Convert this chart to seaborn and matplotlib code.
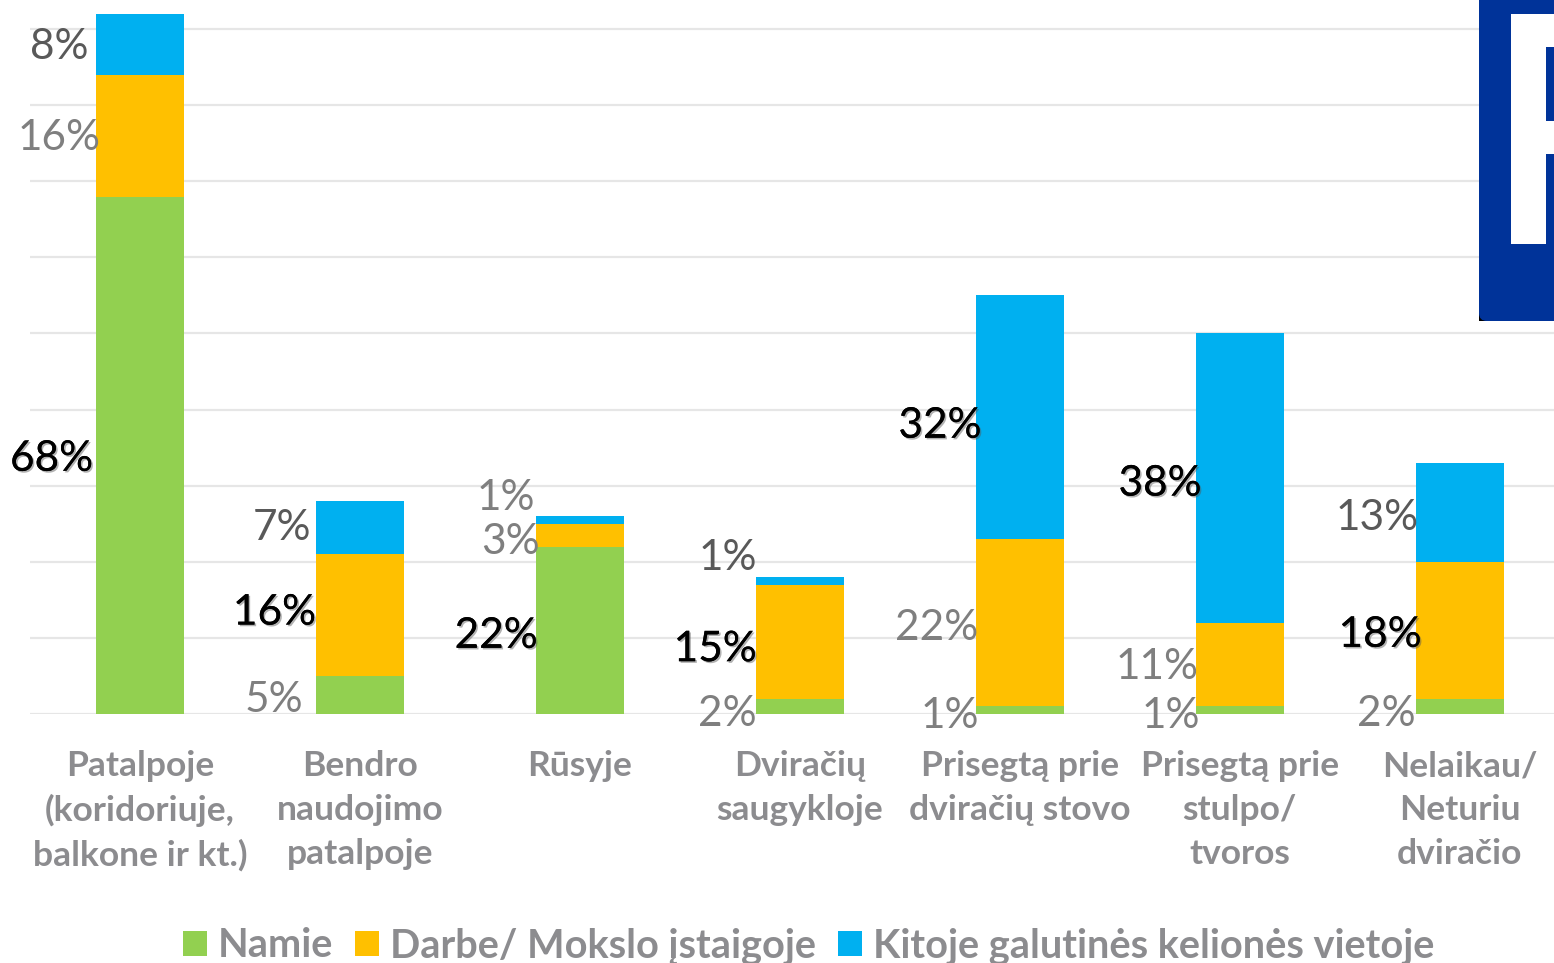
import matplotlib
matplotlib.use("Agg")
import matplotlib.pyplot as plt
import matplotlib.patheffects as pe
from matplotlib.patches import Rectangle, FancyBboxPatch
import numpy as np
import pandas as pd
import seaborn as sns

categories = ["Patalpoje\n(koridoriuje,\nbalkone ir kt.)", "Bendro\nnaudojimo\npatalpoje", "Rūsyje",
              "Dviračių\nsaugykloje", "Prisegtą prie\ndviračių stovo", "Prisegtą prie\nstulpo/\ntvoros",
              "Nelaikau/\nNeturiu\ndviračio"]
namie = [68, 5, 22, 2, 1, 1, 2]
darbe = [16, 16, 3, 15, 22, 11, 18]
kitoje = [8, 7, 1, 1, 32, 38, 13]
series_names = ["Namie", "Darbe/ Mokslo įstaigoje", "Kitoje galutinės kelionės vietoje"]
y_ticks = list(range(0, 100, 10))

colors = ["#92D050", "#FFC000", "#00B0F0"]
# label ink per series: "d" dark, "l" light, "k" black with shadow
ink = {"namie": ["k", "l", "k", "l", "l", "l", "l"],
       "darbe": ["l", "k", "l", "k", "l", "l", "k"],
       "kitoje": ["d", "d", "l", "d", "k", "k", "d"]}
# label nudges in pixels (dx from bar left edge, dy up from segment middle)
nudge = {"namie": [(-3, 0), (-13, -2), (2, -2), (1, -4), (3, -2), (4, -2), (0, -4)],
         "darbe": [(5, 1), (0, 6), (4, -3), (1, -4), (3, -2), (3, 1), (6, -1)],
         "kitoje": [(-7, 1), (-5, 3), (-1, 25), (1, 26), (6, -5), (6, -2), (3, -2)]}
ink_colors = {"d": "#595959", "l": "#7F7F7F", "k": "#000000"}

W, H = 1554, 963
sns.set_theme(style="white")
plt.rcParams["font.family"] = ["Lato", "DejaVu Sans"]
fig = plt.figure(figsize=(W / 100, H / 100), dpi=100)
base_px, px_per_unit = 714, 7.61
ax = fig.add_axes([30 / W, (H - base_px) / H, (W - 30) / W, base_px / H])

df = pd.DataFrame({"cat": categories, "namie": namie, "darbe": darbe, "kitoje": kitoje})
bottom = np.zeros(len(df))
keys = ["namie", "darbe", "kitoje"]
for key, name, col in zip(keys, series_names, colors):
    sns.barplot(data=df, x="cat", y=key, bottom=bottom, color=col, saturation=1, width=0.4,
                label=name, ax=ax, zorder=3, linewidth=0, legend=False)
    for i, v in enumerate(df[key]):
        style = ink[key][i]
        dx, dy = nudge[key][i]
        t = ax.annotate(f"{v}%", xy=(i - 0.2, bottom[i] + v / 2), xycoords="data",
                        xytext=(dx * 0.72, dy * 0.72), textcoords="offset points",
                        ha="right", va="center_baseline", fontsize=30.5, color=ink_colors[style],
                        zorder=5, annotation_clip=False)
        if style == "k":
            t.set_path_effects([pe.withSimplePatchShadow(offset=(1.2, -1.2), shadow_rgbFace="#555555", alpha=0.45),
                                pe.Normal()])
    bottom = bottom + df[key].to_numpy()

ax.set_xlim(-0.5, (W - 139.5) / 220)
ax.set_ylim(0, base_px / px_per_unit)
ax.set_yticks(y_ticks)
ax.tick_params(axis="y", left=False, labelleft=False)
ax.tick_params(axis="x", bottom=False, pad=20)
ax.set_xlabel("")
ax.set_ylabel("")
ax.yaxis.grid(True, color="#E6E6E6", linewidth=1.6, zorder=0)
ax.xaxis.grid(False)
ax.set_axisbelow(True)
for s in ax.spines.values():
    s.set_visible(False)
for lab in ax.get_xticklabels():
    lab.set_fontsize(25.5)
    lab.set_fontweight("bold")
    lab.set_color("#8C8C8F")
    lab.set_linespacing(1.45)

handles, labels = ax.get_legend_handles_labels()
leg = fig.legend(handles, labels, loc="center", bbox_to_anchor=(808.5 / W, (H - 946) / H), ncol=3, frameon=False,
                 handlelength=0.6, handleheight=0.6, handletextpad=0.28, columnspacing=0.55,
                 prop={"size": 28.6, "weight": "bold"})
for t in leg.get_texts():
    t.set_color("#8C8C8F")

# logo fragment in the top-right corner
ov = fig.add_axes([0, 0, 1, 1], zorder=10)
ov.set_xlim(0, W)
ov.set_ylim(H, 0)
ov.axis("off")
ov.patch.set_alpha(0)
blue = "#003399"
ov.add_patch(Rectangle((1479, 310), 12, 11, color="black", lw=0))
ov.add_patch(FancyBboxPatch((1479, -20), 100, 341, boxstyle="round,pad=0,rounding_size=8", color=blue, lw=0))
ov.add_patch(Rectangle((1511, 14), 50, 230, color="white", lw=0))
ov.add_patch(Rectangle((1546, 47), 12, 74, color=blue, lw=0))
ov.add_patch(Rectangle((1546, 154), 12, 95, color=blue, lw=0))

fig.savefig("out.png", dpi=100, facecolor="white")
